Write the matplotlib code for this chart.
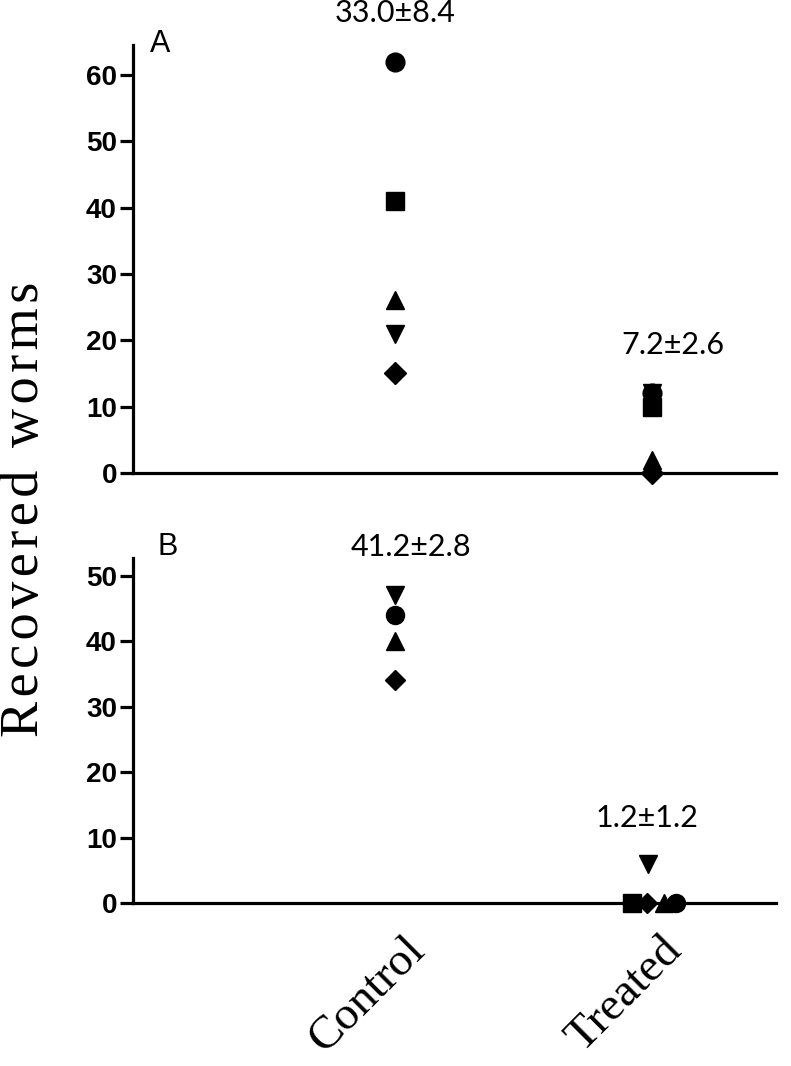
import numpy as np
import matplotlib
matplotlib.use('Agg')
import matplotlib.pyplot as plt
from matplotlib.transforms import offset_copy

# marker per animal, same order in every list
markers = ['o', 's', '^', 'v', 'D']
groups = ['Control', 'Treated']

a_control = [62, 41, 26, 21, 15]
a_treated = [12, 10, 2, 12, 0]
b_control = [44, np.nan, 40, 47, 34]
b_treated = [0, 0, 0, 6, 0]
b_treated_dx = [0.093, -0.078, 0.043, -0.016, -0.023]

a_stats = ['33.0±8.4', '7.2±2.6']
b_stats = ['41.2±2.8', '1.2±1.2']

fig = plt.figure(figsize=(7.91, 10.66), dpi=100)
ax_a = fig.add_axes([0.168, 0.5563, 0.813, 0.4015])
ax_b = fig.add_axes([0.168, 0.1529, 0.813, 0.3236])

tick_font = dict(family='Liberation Sans', weight='bold', size=20)
ann_font = dict(family='Lato', size=22)


def style(ax, ymax, yticks):
    for s in ['top', 'right']:
        ax.spines[s].set_visible(False)
    for s in ['left', 'bottom']:
        ax.spines[s].set_linewidth(2.3)
    ax.set_xlim(-1.02, 1.48)
    ax.set_ylim(0, ymax)
    ax.set_xticks([])
    ax.set_yticks(yticks)
    ax.set_yticklabels([str(t) for t in yticks], fontdict=tick_font)
    ax.tick_params(axis='y', length=9.5, width=2.3, pad=2)
    ax.spines['left'].set_bounds(0, ymax)


style(ax_a, 64.5, [0, 10, 20, 30, 40, 50, 60])
style(ax_b, 52.7, [0, 10, 20, 30, 40, 50])

order = [4, 3, 2, 1, 0]  # draw circle last
for i in order:
    ms = 11 if markers[i] == 'D' else 13.5
    ax_a.plot(0, a_control[i], marker=markers[i], ms=ms,
              color='black', ls='none', clip_on=False)
    ax_a.plot(1, a_treated[i], marker=markers[i], ms=ms,
              color='black', ls='none', clip_on=False)
    ax_b.plot(0, b_control[i], marker=markers[i], ms=ms - 0.5,
              color='black', ls='none', clip_on=False)
    ax_b.plot(1 + b_treated_dx[i], b_treated[i], marker=markers[i], ms=ms - 0.5,
              color='black', ls='none', clip_on=False)

# mean +/- SE labels
ax_a.text(0, 68, a_stats[0], ha='center', va='baseline', clip_on=False, **ann_font)
ax_a.text(1.08, 18.0, a_stats[1], ha='center', va='baseline', **ann_font)
ax_b.text(0.06, 53.0, b_stats[0], ha='center', va='baseline', clip_on=False, **ann_font)
ax_b.text(0.98, 11.6, b_stats[1], ha='center', va='baseline', **ann_font)

# panel letters
fig.text(150 / 791, 1 - 52 / 1066, 'A', family='Liberation Sans', size=22)
fig.text(157 / 791, 1 - 555 / 1066, 'B', family='Liberation Sans', size=22)

# group labels below panel B
for x, g in enumerate(groups):
    tr = offset_copy(ax_b.transData, fig=fig, x=8, y=-26, units='dots')
    ax_b.text(x, 0, g, transform=tr, rotation=45, rotation_mode='anchor',
              ha='right', va='top', family='Liberation Serif', size=34)

fig.text(25 / 791, 1 - 509 / 1066,
         'R\u200ae\u200ac\u200ao\u200av\u200ae\u200ar\u200ae\u200ad\u200a \u200aw\u200ao\u200ar\u200am\u200as',
         rotation=90, ha='center', va='center', family='Liberation Serif', size=39)

fig.savefig('out.png', dpi=100)
